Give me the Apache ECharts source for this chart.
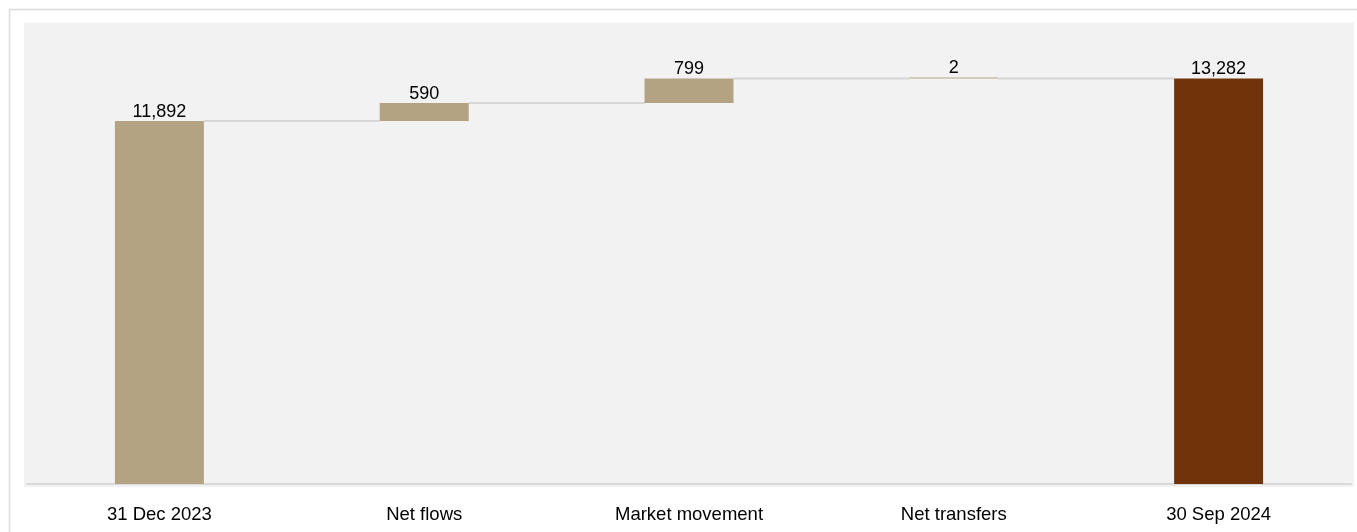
<!DOCTYPE html>
<html>
<head>
<meta charset="utf-8">
<script src="https://cdn.jsdelivr.net/npm/echarts@6/dist/echarts.min.js"></script>
<style>
html,body{margin:0;padding:0;background:#fff;}
#chart{width:1357px;height:532px;}
</style>
</head>
<body>
<div id="chart"></div>
<script>
const categories = ['31 Dec 2023', 'Net flows', 'Market movement', 'Net transfers', '30 Sep 2024'];
const values = [11892, 590, 799, 2, 13282];
const isTotal = [true, false, false, false, true];
const valueLabels = ['11,892', '590', '799', '2', '13,282'];

const colorTan = '#b3a383';
const colorBrown = '#71330a';

// build base (invisible) + visible parts from the values
const bases = [];
const tops = [];
let running = 0;
values.forEach((v, i) => {
  if (isTotal[i]) { bases.push(0); running = v; }
  else { bases.push(running); running += v; }
  tops.push(running);
});

const chart = echarts.init(document.getElementById('chart'), null, {renderer: 'canvas'});
const barPct = 0.336;

chart.setOption({
  animation: false,
  backgroundColor: '#fff',
  graphic: [
    {type: 'rect', z: -10, silent: true, shape: {x: 9.5, y: 9.5, width: 1400, height: 600},
     style: {fill: '#fff', stroke: '#dcdcdc', lineWidth: 1.5}},
    {type: 'rect', z: -9, silent: true, shape: {x: 24, y: 22.5, width: 1330, height: 464.5},
     style: {fill: '#f2f2f2'}}
  ],
  grid: {left: 27, right: 6, top: 26, bottom: 48, containLabel: false},
  xAxis: {
    type: 'category',
    data: categories,
    axisLine: {show: true, lineStyle: {color: '#d9d9d9', width: 2}},
    axisTick: {show: false},
    axisLabel: {color: '#000', fontSize: 18.5, fontFamily: 'Liberation Sans, Arial, sans-serif', margin: 21, interval: 0}
  },
  yAxis: {
    type: 'value', min: 0, max: 15000, show: false,
    splitLine: {show: false}
  },
  series: [
    {
      type: 'custom',
      z: 1,
      renderItem: function (params, api) {
        const i = api.value(0);
        const y = api.value(1);
        const p = api.coord([i, y]);
        const bw = api.size([1, 0])[0];
        const half = bw * barPct / 2;
        return {
          type: 'line',
          shape: {x1: p[0] + half, y1: p[1], x2: p[0] + bw - half, y2: p[1]},
          style: {stroke: '#d6d6d6', lineWidth: 2}
        };
      },
      data: tops.slice(0, -1).map((t, i) => [i, t]),
      encode: {x: 0, y: 1},
      silent: true
    },
    {
      type: 'bar', stack: 'w', barWidth: (barPct * 100) + '%', z: 2,
      itemStyle: {color: 'transparent'},
      data: bases, silent: true
    },
    {
      type: 'bar', stack: 'w', barWidth: (barPct * 100) + '%', z: 2,
      barMinHeight: 1,
      data: values.map((v, i) => ({
        value: v,
        itemStyle: {color: i === values.length - 1 ? colorBrown : colorTan}
      })),
      label: {
        show: true, position: 'top', distance: 0,
        color: '#000', fontSize: 18, fontFamily: 'Liberation Sans, Arial, sans-serif',
        formatter: p => valueLabels[p.dataIndex]
      }
    }
  ]
});
</script>
</body>
</html>
